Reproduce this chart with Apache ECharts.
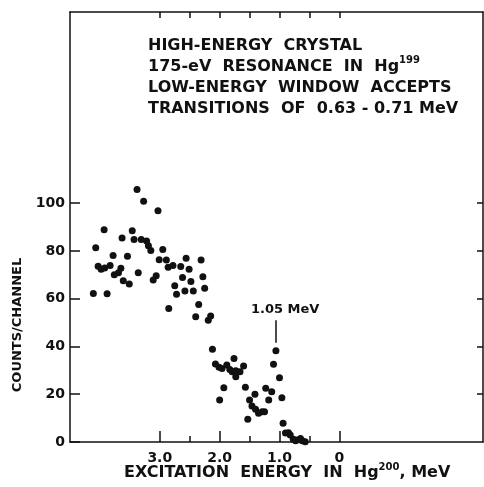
<!DOCTYPE html>
<html>
<head>
<meta charset="utf-8">
<script src="https://cdn.jsdelivr.net/npm/echarts@6/dist/echarts.min.js"></script>
<style>
  html, body { margin: 0; padding: 0; background: #fff; }
  #chart { width: 484px; height: 487px; }
</style>
</head>
<body>
<div id="chart"></div>
<script>
// excitation energy in Hg-200 (MeV) and counts per channel
const energyMeV = [
  3.38, 3.27, 3.03, 3.93, 3.46, 3.63, 3.43, 3.31, 3.22, 3.19,
  3.15, 4.07, 2.95, 3.78, 3.54, 3.01, 2.89, 2.86, 4.03, 3.98,
  3.92, 3.83, 3.65, 3.69, 3.76, 3.36, 3.06, 3.11, 3.61, 3.51,
  4.11, 3.88,
  2.78, 2.65, 2.56, 2.51, 2.31, 2.62, 2.48, 2.28, 2.75, 2.72,
  2.58, 2.44, 2.25, 2.85, 2.35, 2.40, 2.19, 2.15,
  2.12, 2.07, 2.01, 1.96, 1.88, 1.83, 1.79, 1.73, 1.66, 1.60,
  1.76, 1.73, 1.93, 2.00, 1.57, 1.41, 1.50, 1.46, 1.40, 1.35,
  1.29, 1.25, 1.53, 1.23, 1.13, 1.18, 1.10, 1.06, 1.00, 0.96,
  0.94, 0.90, 0.85, 0.82, 0.77, 0.72, 0.65, 0.62, 0.57, 0.73
];
const counts = [
  105.7, 100.8, 96.8, 88.8, 88.4, 85.4, 84.8, 84.8, 84.1, 82.1,
  80.2, 81.3, 80.6, 78.1, 77.8, 76.3, 76.2, 73.1, 73.6, 72.3,
  72.8, 73.9, 72.7, 70.8, 70.0, 70.8, 69.6, 67.8, 67.5, 66.1,
  62.2, 62.1,
  73.9, 73.5, 76.9, 72.3, 76.2, 68.9, 67.2, 69.2, 65.4, 61.8,
  63.2, 63.2, 64.4, 55.9, 57.6, 52.4, 51.0, 52.7,
  38.8, 32.6, 31.3, 30.8, 32.2, 30.4, 29.4, 29.8, 29.4, 31.8,
  35.0, 27.3, 22.7, 17.6, 22.9, 20.0, 17.6, 15.1, 13.7, 12.0,
  12.7, 12.7, 9.5, 22.5, 21.0, 17.6, 32.5, 38.2, 26.9, 18.5,
  7.8, 3.8, 3.9, 2.9, 1.1, 0.8, 1.5, 0.5, 0.1, 0.5
];

const xMajorTicks = [0, 1, 2, 3];
const xMinorTicks = [0.5, 1.5, 2.5];
const xTopTicks = [0, 0.5, 1, 1.5, 2, 2.5, 3];
const yTicks = [0, 20, 40, 60, 80, 100];
const yRightTicks = [20, 40, 60, 80, 100];

const peakLabel = '1.05 MeV';
const infoLines = [
  'HIGH-ENERGY  CRYSTAL',
  '175-eV  RESONANCE  IN  Hg{sup|199}',
  'LOW-ENERGY  WINDOW  ACCEPTS',
  'TRANSITIONS  OF  0.63 - 0.71 MeV'
];

const FONT = 'DejaVu Sans';
const ink = '#111';

const chart = echarts.init(document.getElementById('chart'));

const xBase = { type: 'value', min: -2.4, max: 4.5, inverse: true, splitLine: { show: false } };

const option = {
  backgroundColor: '#fff',
  animation: false,
  grid: { left: 70, right: 1, top: 12, bottom: 45 },
  xAxis: [
    Object.assign({}, xBase, {
      position: 'bottom',
      axisLine: { onZero: false, lineStyle: { color: ink, width: 1.5 } },
      axisTick: { inside: true, length: 11, customValues: xMajorTicks, lineStyle: { color: ink, width: 1.5 } },
      axisLabel: {
        customValues: xMajorTicks, margin: 9, color: ink,
        fontFamily: FONT, fontWeight: 'bold', fontSize: 14,
        formatter: v => (v === 0 ? '0' : v.toFixed(1))
      }
    }),
    Object.assign({}, xBase, {
      position: 'bottom',
      axisLine: { show: false, onZero: false },
      axisTick: { inside: true, length: 6, customValues: xMinorTicks, lineStyle: { color: ink, width: 1.5 } },
      axisLabel: { show: false }
    }),
    Object.assign({}, xBase, {
      position: 'top',
      axisLine: { onZero: false, lineStyle: { color: ink, width: 1.5 } },
      axisTick: { inside: true, length: 6, customValues: xTopTicks, lineStyle: { color: ink, width: 1.5 } },
      axisLabel: { show: false }
    })
  ],
  yAxis: [
    {
      type: 'value', min: 0, max: 180, position: 'left',
      splitLine: { show: false },
      axisLine: { show: true, onZero: false, lineStyle: { color: ink, width: 1.5 } },
      axisTick: { show: true, inside: true, length: 10, customValues: yTicks, lineStyle: { color: ink, width: 1.5 } },
      axisLabel: {
        customValues: yTicks, margin: 5, color: ink,
        fontFamily: FONT, fontWeight: 'bold', fontSize: 14
      }
    },
    {
      type: 'value', min: 0, max: 180, position: 'right',
      splitLine: { show: false },
      axisLine: { show: true, onZero: false, lineStyle: { color: ink, width: 1.5 } },
      axisTick: { show: true, inside: true, length: 6, customValues: yRightTicks, lineStyle: { color: ink, width: 1.5 } },
      axisLabel: { show: false }
    }
  ],
  series: [
    {
      type: 'scatter',
      xAxisIndex: 0,
      yAxisIndex: 0,
      symbolSize: 7,
      itemStyle: { color: ink, opacity: 1 },
      data: energyMeV.map((e, i) => [e, counts[i]]),
      markLine: {
        silent: true,
        symbol: 'none',
        lineStyle: { color: ink, width: 1.5, type: 'solid' },
        label: {
          show: true, position: 'end', distance: 4, offset: [9, 0],
          formatter: peakLabel, color: ink,
          fontFamily: FONT, fontWeight: 'bold', fontSize: 13
        },
        data: [[{ coord: [1.055, 41.5] }, { coord: [1.055, 51] }]]
      }
    }
  ],
  graphic: [
    {
      type: 'text', left: 148, top: 35,
      style: {
        text: infoLines.join('\n'),
        fill: ink, fontFamily: FONT, fontWeight: 'bold', fontSize: 16, lineHeight: 21,
        rich: {
          sup: { fontFamily: FONT, fontWeight: 'bold', fontSize: 10, fill: ink, padding: [0, 0, 12, 0] }
        }
      }
    },
    {
      type: 'text', left: 124, top: 462,
      style: {
        text: 'EXCITATION  ENERGY  IN  Hg{sup|200}, MeV',
        fill: ink, fontFamily: FONT, fontWeight: 'bold', fontSize: 16,
        rich: {
          sup: { fontFamily: FONT, fontWeight: 'bold', fontSize: 10, fill: ink, padding: [0, 0, 12, 0] }
        }
      }
    },
    {
      type: 'text', x: 18, y: 325, rotation: Math.PI / 2,
      style: {
        text: 'COUNTS/CHANNEL',
        fill: ink, fontFamily: FONT, fontWeight: 'bold', fontSize: 13,
        align: 'center', verticalAlign: 'middle'
      }
    }
  ]
};

chart.setOption(option);
</script>
</body>
</html>
